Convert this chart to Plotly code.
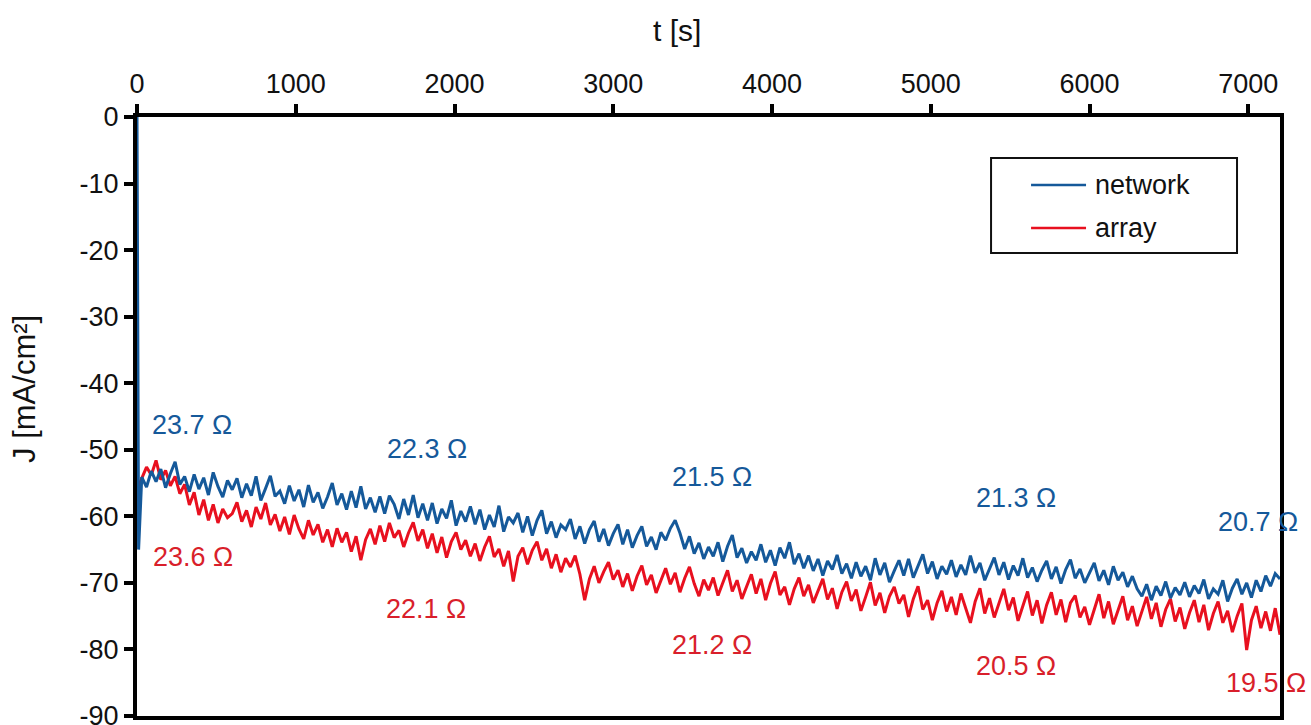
import plotly.graph_objects as go

# sample times [s]: switch-on point, then one reading every 30 s
t_s = [0, 10] + list(range(30, 7201, 30))

# current density of the nanowire network [mA/cm²]
network_j = [0.0, -65.0,
    -54.1, -55.6, -53.2, -54.8, -52.9, -55.7, -53.6, -51.8, -55.2, -54.0,
    -56.3, -53.7, -55.9, -54.2, -56.8, -53.4, -55.5, -57.1, -54.6, -56.0,
    -54.3, -57.2, -55.1, -56.9, -54.0, -57.6, -55.8, -53.9, -57.0, -56.2,
    -58.1, -55.4, -57.7, -56.0, -58.6, -55.3, -57.9, -56.4, -58.8, -57.1,
    -55.0, -58.3, -56.6, -59.0, -56.2, -58.7, -55.5, -58.9, -57.2, -59.4,
    -57.0, -59.6, -56.9, -58.2, -60.4, -57.4, -59.8, -56.8, -60.2, -58.1,
    -60.6, -58.0, -61.1, -58.9, -60.3, -57.6, -61.4, -59.2, -60.8, -58.5,
    -61.2, -59.0, -62.0, -59.8, -61.6, -58.4, -62.3, -60.1, -61.0, -59.5,
    -62.4, -60.0, -62.9, -60.6, -59.1, -62.6, -60.8, -63.2, -61.3, -62.0,
    -60.4, -63.4, -61.5, -64.1, -62.0, -60.7, -63.8, -61.9, -64.4, -62.6,
    -61.2, -64.2, -62.0, -64.7, -62.9, -61.5, -64.5, -63.1, -65.0, -62.4,
    -63.6, -61.8, -60.6, -62.5, -64.9, -63.0, -65.6, -64.0, -66.4, -64.6,
    -66.0, -63.9, -66.8, -64.5, -62.8, -66.2, -64.8, -67.0, -65.3, -66.6,
    -64.2, -66.9, -65.1, -67.4, -64.7, -66.3, -63.9, -67.2, -65.6, -67.8,
    -65.9, -68.2, -66.4, -68.9, -66.7, -68.0, -65.8, -68.6, -67.1, -69.3,
    -66.9, -69.0, -67.5, -69.6, -66.3, -68.8, -67.0, -69.9, -68.2, -66.6,
    -68.9, -66.4, -69.2, -67.3, -65.7, -68.6, -66.8, -69.4, -67.5, -68.7,
    -66.6, -69.1, -67.3, -68.8, -65.9, -68.5, -67.0, -69.6, -67.9, -66.2,
    -68.8, -66.9, -69.5, -67.4, -68.9, -66.3, -69.2, -67.7, -69.8, -68.1,
    -66.7, -69.4, -67.6, -70.1, -68.0, -66.5, -69.3, -67.9, -70.0, -68.4,
    -67.0, -69.7, -68.1, -70.3, -67.5, -69.6, -68.4, -70.6, -69.0, -70.9,
    -72.0, -70.2, -72.6, -70.5, -71.9, -69.8, -72.3, -70.7, -71.8, -69.9,
    -72.1, -70.4, -71.6, -69.5, -72.4, -70.9, -71.7, -69.6, -72.8, -70.8,
    -69.4, -71.7, -70.0, -72.2, -69.6, -71.3, -68.9, -70.5, -68.6, -69.4,
]

# current density of the nanowire array [mA/cm²]
array_j = [-58.0, -55.5,
    -54.3, -52.6, -53.8, -51.6, -54.5, -53.1, -55.4, -54.0, -56.6, -55.2,
    -58.3, -56.4, -59.8, -57.5, -60.6, -58.2, -61.0, -58.9, -60.2, -59.6,
    -57.9, -60.8, -59.1, -61.6, -58.6, -60.4, -58.0, -61.3, -59.7, -62.2,
    -60.1, -62.7, -59.8, -61.9, -63.4, -60.6, -62.8, -61.2, -63.9, -62.0,
    -64.6, -61.8, -63.9, -62.4, -65.3, -63.0, -66.6, -63.5, -61.9, -64.2,
    -61.4, -63.8, -61.0, -63.2, -62.1, -64.6, -62.5, -60.9, -63.7, -62.0,
    -64.8, -62.6, -65.5, -63.1, -66.2, -63.8, -62.4, -65.0, -63.6, -66.0,
    -64.1, -66.7, -64.6, -63.0, -66.1, -64.9, -67.5, -65.2, -69.8, -66.0,
    -64.7, -67.2, -65.1, -63.8, -66.6, -64.9, -67.8, -65.7, -68.4, -66.3,
    -67.6, -65.9, -68.7, -72.6, -69.4, -67.5, -70.0, -68.3, -66.9, -69.5,
    -68.1, -70.6, -68.6, -71.2, -69.0, -67.4, -70.3, -68.8, -71.5, -69.6,
    -67.8, -70.2, -68.5, -71.4, -69.3, -67.6, -70.1, -72.0, -69.5, -71.1,
    -69.2, -71.9, -70.0, -68.1, -71.3, -69.6, -72.4, -70.5, -68.7, -71.6,
    -69.4, -72.6, -70.1, -68.3, -71.8, -70.6, -73.3, -70.9, -69.2, -72.0,
    -70.3, -73.0, -71.1, -69.4, -72.5, -70.8, -73.9, -71.4, -69.8, -72.7,
    -71.0, -74.2, -72.1, -69.9, -73.4, -71.5, -74.5, -72.0, -70.6, -73.1,
    -71.8, -75.1, -72.4, -70.5, -74.0, -72.6, -75.6, -73.0, -71.2, -74.3,
    -72.1, -74.8, -71.6, -73.9, -76.0, -72.8, -70.8, -74.6, -72.3, -75.2,
    -73.0, -70.9, -74.1, -72.2, -75.7, -73.4, -71.3, -74.9, -72.6, -76.1,
    -73.3, -71.4, -74.8, -72.5, -75.9, -73.0, -71.9, -75.2, -73.6, -76.3,
    -74.0, -71.7, -75.3, -72.8, -76.2, -74.1, -72.0, -75.6, -73.5, -76.5,
    -74.2, -72.1, -75.4, -73.0, -76.6, -74.0, -72.4, -75.8, -73.7, -76.9,
    -74.5, -72.6, -75.9, -73.3, -77.1, -74.6, -72.8, -76.0, -74.2, -77.4,
    -75.0, -73.1, -80.1, -75.6, -73.5, -76.8, -74.3, -77.2, -73.8, -77.8,
]

# series resistance labels
network_labels_t = [347, 1827, 3623, 5539, 7064]
network_labels_j = [-46.3, -49.9, -54.1, -57.3, -60.9]
network_labels = ["23.7 Ω", "22.3 Ω", "21.5 Ω", "21.3 Ω", "20.7 Ω"]

array_labels_t = [353, 1821, 3623, 5539, 7114]
array_labels_j = [-66.1, -73.9, -79.4, -82.5, -85.1]
array_labels = ["23.6 Ω", "22.1 Ω", "21.2 Ω", "20.5 Ω", "19.5 Ω"]

x_ticks = [0, 1000, 2000, 3000, 4000, 5000, 6000, 7000]
y_ticks = [0, -10, -20, -30, -40, -50, -60, -70, -80, -90]

BLUE = "#15599a"
RED = "#e8101f"
RED_TEXT = "#d91f2b"
INK = "#111111"
FONT = "Arial, Liberation Sans, sans-serif"
FS = 27

fig = go.Figure()
fig.add_trace(go.Scatter(x=t_s, y=array_j, mode="lines", name="array",
                         line=dict(color=RED, width=3), showlegend=False))
fig.add_trace(go.Scatter(x=t_s, y=network_j, mode="lines", name="network",
                         line=dict(color=BLUE, width=3), showlegend=False))

annotations = []
for tx, jy, txt in zip(network_labels_t, network_labels_j, network_labels):
    annotations.append(dict(x=tx, y=jy, text=txt, showarrow=False,
                            xanchor="center", yanchor="middle",
                            font=dict(color=BLUE, size=FS, family=FONT)))
for tx, jy, txt in zip(array_labels_t, array_labels_j, array_labels):
    annotations.append(dict(x=tx, y=jy, text=txt, showarrow=False,
                            xanchor="center", yanchor="middle",
                            font=dict(color=RED_TEXT, size=FS, family=FONT)))

# axis titles
annotations.append(dict(x=0.4724, y=1.1452, xref="paper", yref="paper", text="t [s]",
                        xanchor="center", yanchor="middle", showarrow=False,
                        font=dict(color=INK, size=30, family=FONT)))
annotations.append(dict(x=-0.098, y=0.546, xref="paper", yref="paper", text="J [mA/cm²]",
                        textangle=-90, xanchor="center", yanchor="middle", showarrow=False,
                        font=dict(color=INK, size=31, family=FONT)))

# legend box
lg_x0, lg_x1, lg_y0, lg_y1 = 0.7472, 0.9624, 0.7730, 0.9316
line_x0, line_x1 = 0.7822, 0.8303
entries = [("network", BLUE, 0.8865), ("array", RED, 0.8147)]
shapes = [dict(type="rect", xref="paper", yref="paper", x0=lg_x0, x1=lg_x1,
               y0=lg_y0, y1=lg_y1, line=dict(color=INK, width=2),
               fillcolor="white", layer="above")]
for name, col, yy in entries:
    shapes.append(dict(type="line", xref="paper", yref="paper", x0=line_x0, x1=line_x1,
                       y0=yy, y1=yy, line=dict(color=col, width=2.5), layer="above"))
    annotations.append(dict(x=0.8364, y=yy, xref="paper", yref="paper", text=name,
                            xanchor="left", yanchor="middle", showarrow=False,
                            font=dict(color=INK, size=FS, family=FONT)))

fig.update_layout(
    width=1311, height=725,
    margin=dict(l=137, r=31, t=117, b=9),
    paper_bgcolor="white", plot_bgcolor="white",
    font=dict(family=FONT, size=FS, color=INK),
    annotations=annotations, shapes=shapes,
    showlegend=False,
)
fig.update_xaxes(
    side="top", range=[0, 7200], tickvals=x_ticks, ticktext=[str(v) for v in x_ticks],
    showline=True, mirror=True, linewidth=4, linecolor="black",
    ticks="outside", ticklen=9, tickwidth=4, tickcolor="black",
    showgrid=False, zeroline=False, ticklabeloverflow="allow", automargin=False,
    tickfont=dict(size=FS),
)
fig.update_yaxes(
    range=[-90, 0], tickvals=y_ticks, ticktext=[str(v) for v in y_ticks],
    showline=True, mirror=True, linewidth=4, linecolor="black",
    ticks="outside", ticklen=9, tickwidth=4, tickcolor="black",
    showgrid=False, zeroline=False, ticklabeloverflow="allow", automargin=False,
    tickfont=dict(size=FS),
)

fig.write_html("out.html")
